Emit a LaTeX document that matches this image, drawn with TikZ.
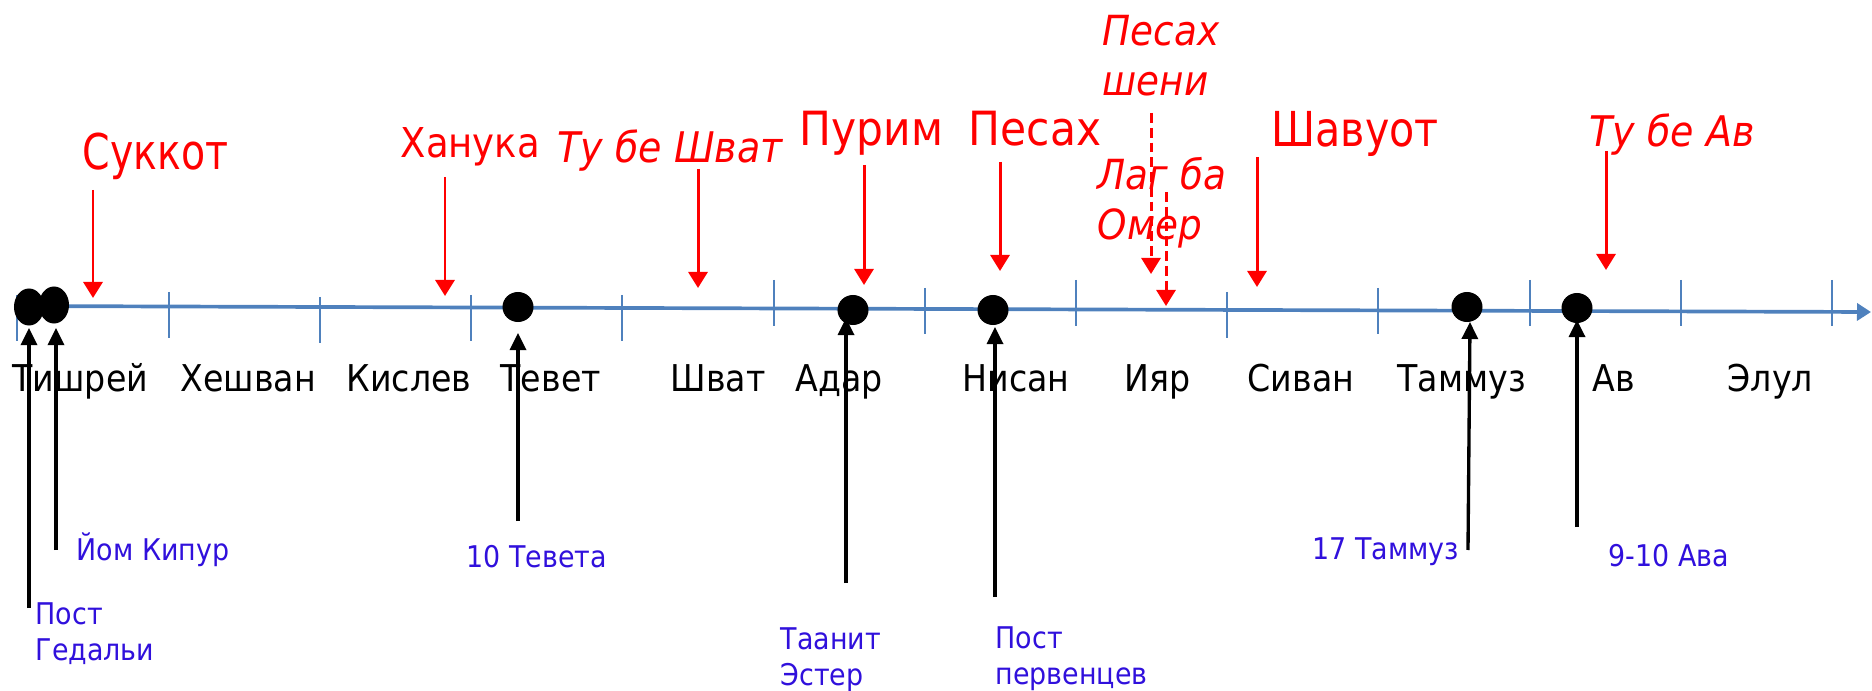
\documentclass[tikz,border=0pt]{standalone}
\usepackage{fontspec}
\setmainfont{DejaVuSansCondensed.ttf}[ItalicFont=DejaVuSansCondensed-Oblique.ttf]
\usepackage{tikz}
\usetikzlibrary{arrows.meta,%
                shapes.geometric}
\definecolor{axisblue}{RGB}{79,129,189}
\definecolor{fastblue}{RGB}{48,16,220}

\begin{document}
\begin{tikzpicture}[x=0.01cm,y=-0.01cm,
        month/.style={anchor=base west,inner sep=0pt,font=\fontsize{10.5pt}{12pt}\selectfont},
        feast/.style={anchor=base west,inner sep=0pt,text=red},
        minor/.style={anchor=north west,inner sep=0pt,text=red,align=left,font=\itshape\fontsize{11.8pt}{14pt}\selectfont},
        fast/.style={anchor=base west,inner sep=0pt,text=fastblue,align=left,font=\fontsize{8.5pt}{10.2pt}\selectfont},
        dot/.style={ellipse,fill=black,inner sep=0pt},
        tick/.style={axisblue,line width=0.55pt},
        redarrow/.style={red,line width=0.85pt,-{Triangle[width=0.19cm,length=0.16cm]}},
        blackarrow/.style={black,line width=0.95pt,-{Triangle[width=0.16cm,length=0.17cm]}}]
    \useasboundingbox (0,0) rectangle (1872,691);

    % time line
    \coordinate (axis-start) at (16,306);
    \coordinate (axis-end) at (1871,312);
    \draw[axisblue,line width=1.05pt,-{Triangle[width=0.17cm,length=0.14cm]}] (axis-start) -- (axis-end);
    \foreach \x/\t in {17/295,169/292,320/297,471/295,622/295,774/280,925/288,1076/280,1227/292,1378/288,1530/280,1681/280,1832/280}
        \draw[tick] (\x,\t) -- ++(0,46);

    % months
    \node[month] (tishrei) at (12,392) {Тишрей};
    \node[month] (kheshvan) at (180,392) {Хешван};
    \node[month] (kislev) at (346,392) {Кислев};
    \node[month] (tevet) at (500,392) {Тевет};
    \node[month] (shvat) at (670,392) {Шват};
    \node[month] (adar) at (795,392) {Адар};
    \node[month] (nisan) at (962,392) {Нисан};
    \node[month] (iyar) at (1124,392) {Ияр};
    \node[month] (sivan) at (1247,392) {Сиван};
    \node[month] (tammuz) at (1397,392) {Таммуз};
    \node[month] (av) at (1592,392) {Ав};
    \node[month] (elul) at (1727,392) {Элул};

    % feasts
    \node[feast,font=\fontsize{14pt}{16pt}\selectfont] (sukkot) at (82,170) {\scalebox{0.89}[1]{Суккот}};
    \node[feast,font=\fontsize{11.7pt}{14pt}\selectfont] (khanuka) at (400,158) {Ханука};
    \node[feast,font=\itshape\fontsize{12pt}{14pt}\selectfont] (tubishvat) at (557,163) {Ту бе Шват};
    \node[feast,font=\fontsize{13.4pt}{16pt}\selectfont] (purim) at (799,146) {Пурим};
    \node[feast,font=\fontsize{13.4pt}{16pt}\selectfont] (pesach) at (968,146) {Песах};
    \node[minor] (pesachsheni) at (1102,15) {Песах\\шени};
    \node[minor] (lagbaomer) at (1097,157) {Лаг ба\\Омер};
    \node[feast,font=\fontsize{13.7pt}{16pt}\selectfont] (shavuot) at (1271,147) {\scalebox{0.95}[1]{Шавуот}};
    \node[feast,font=\itshape\fontsize{12pt}{14pt}\selectfont] (tubeav) at (1589,147) {Ту бе Ав};

    % fasts
    \node[fast,anchor=north west] (gedalya) at (35,602) {Пост\\Гедальи};
    \node[fast] (yomkipur) at (76,560) {Йом Кипур};
    \node[fast] (tevet10) at (466,567) {10 Тевета};
    \node[fast,anchor=north west] (taanit) at (780,627) {Таанит\\Эстер};
    \node[fast,anchor=north west] (bekhorim) at (995,626) {Пост\\первенцев};
    \node[fast] (tammuz17) at (1312,559) {17 Таммуз};
    \node[fast] (av9) at (1608,566) {9-10 Ава};

    % arrows from above
    \coordinate (sukkot-a) at (93,190);       \coordinate (sukkot-b) at (93,298);
    \coordinate (khanuka-a) at (445,177);     \coordinate (khanuka-b) at (445,296);
    \coordinate (tubishvat-a) at (698,169);   \coordinate (tubishvat-b) at (698,288);
    \coordinate (purim-a) at (864,165);       \coordinate (purim-b) at (864,285);
    \coordinate (pesach-a) at (1000,162);     \coordinate (pesach-b) at (1000,271);
    \coordinate (pesachsheni-a) at (1151,113); \coordinate (pesachsheni-b) at (1151,274);
    \coordinate (lagbaomer-a) at (1166,192);  \coordinate (lagbaomer-b) at (1166,306);
    \coordinate (shavuot-a) at (1257,157);    \coordinate (shavuot-b) at (1257,287);
    \coordinate (tubeav-a) at (1606,151);     \coordinate (tubeav-b) at (1606,270);
    \draw[redarrow] (sukkot-a) -- (sukkot-b);
    \draw[redarrow] (khanuka-a) -- (khanuka-b);
    \draw[redarrow] (tubishvat-a) -- (tubishvat-b);
    \draw[redarrow] (purim-a) -- (purim-b);
    \draw[redarrow] (pesach-a) -- (pesach-b);
    \draw[redarrow,dash pattern=on 2.8pt off 1.4pt] (pesachsheni-a) -- (pesachsheni-b);
    \draw[redarrow,dash pattern=on 2.8pt off 1.4pt] (lagbaomer-a) -- (lagbaomer-b);
    \draw[redarrow] (shavuot-a) -- (shavuot-b);
    \draw[redarrow] (tubeav-a) -- (tubeav-b);

    % arrows from below
    \coordinate (gedalya-a) at (29,608);      \coordinate (gedalya-b) at (29,328);
    \coordinate (yomkipur-a) at (56,550);     \coordinate (yomkipur-b) at (56,328);
    \coordinate (tevet10-a) at (518,521);     \coordinate (tevet10-b) at (518,333);
    \coordinate (taanit-a) at (846,583);      \coordinate (taanit-b) at (846,318);
    \coordinate (bekhorim-a) at (995,597);    \coordinate (bekhorim-b) at (995,327);
    \coordinate (tammuz17-a) at (1468,550);   \coordinate (tammuz17-b) at (1470,322);
    \coordinate (av9-a) at (1577,527);        \coordinate (av9-b) at (1577,320);
    \draw[blackarrow] (gedalya-a) -- (gedalya-b);
    \draw[blackarrow] (yomkipur-a) -- (yomkipur-b);
    \draw[blackarrow] (tevet10-a) -- (tevet10-b);
    \draw[blackarrow] (taanit-a) -- (taanit-b);
    \draw[blackarrow] (bekhorim-a) -- (bekhorim-b);
    \draw[blackarrow] (tammuz17-a) -- (tammuz17-b);
    \draw[blackarrow] (av9-a) -- (av9-b);

    % days
    \node[dot,minimum width=0.30cm,minimum height=0.37cm] (dgedalya) at (29,307) {};
    \node[dot,minimum width=0.30cm,minimum height=0.37cm] (dyomkipur) at (54,305) {};
    \node[dot,minimum width=0.31cm,minimum height=0.30cm] (dtevet) at (518,307) {};
    \node[dot,minimum width=0.31cm,minimum height=0.30cm] (dtaanit) at (853,310) {};
    \node[dot,minimum width=0.31cm,minimum height=0.30cm] (dbekhorim) at (993,310) {};
    \node[dot,minimum width=0.31cm,minimum height=0.30cm] (dtammuz) at (1467,307) {};
    \node[dot,minimum width=0.31cm,minimum height=0.30cm] (dav) at (1577,308) {};
\end{tikzpicture}
\end{document}
